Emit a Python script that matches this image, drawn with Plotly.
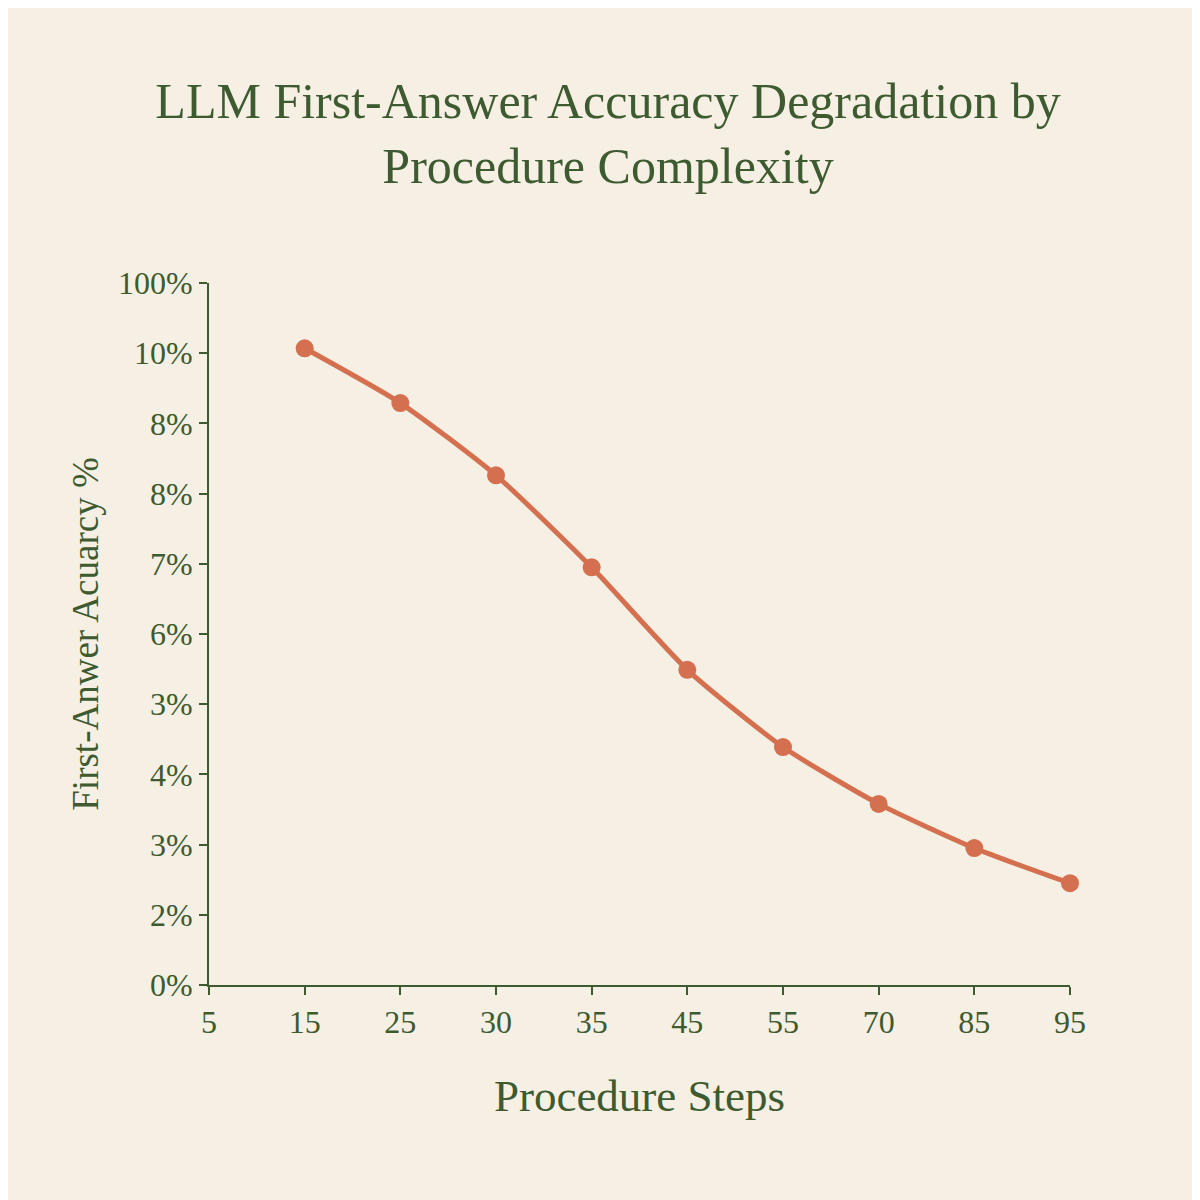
import plotly.graph_objects as go

# tick labels as printed on the chart (evenly spaced positions)
x_labels = ["5", "15", "25", "30", "35", "45", "55", "70", "85", "95"]
y_labels = ["0%", "2%", "3%", "4%", "3%", "6%", "7%", "8%", "8%", "10%", "100%"]

# series, in tick-position units
x_pos = [1, 2, 3, 4, 5, 6, 7, 8, 9]
y_pos = [9.07, 8.29, 7.26, 5.95, 4.49, 3.39, 2.58, 1.95, 1.45]

GREEN = "#3e5a30"
LINE = "#d4704f"
BG = "#f5f0e3"
FONT = "Liberation Serif"

fig = go.Figure()
fig.add_trace(go.Scatter(
    x=x_pos, y=y_pos, mode="lines+markers",
    line=dict(color=LINE, width=5, shape="spline", smoothing=0.6),
    marker=dict(color=LINE, size=18),
    cliponaxis=False, showlegend=False,
))

fig.update_xaxes(
    range=[0, 9], tickvals=list(range(len(x_labels))), ticktext=x_labels,
    showgrid=False, zeroline=False, showline=True, linecolor=GREEN, linewidth=2,
    ticks="outside", tickcolor=GREEN, tickwidth=2, ticklen=8,
    tickfont=dict(size=32, color=GREEN, family=FONT),
    title=dict(text="Procedure Steps", font=dict(size=45, color=GREEN, family=FONT), standoff=40),
)
fig.update_yaxes(
    range=[0, 10], tickvals=list(range(len(y_labels))), ticktext=y_labels,
    showgrid=False, zeroline=False, showline=True, linecolor=GREEN, linewidth=2,
    ticks="outside", tickcolor=GREEN, tickwidth=2, ticklen=8,
    tickfont=dict(size=32, color=GREEN, family=FONT),
    title=dict(text="First-Anwer Acuarcy %", font=dict(size=37, color=GREEN, family=FONT), standoff=8),
)

fig.update_layout(
    width=1200, height=1200,
    paper_bgcolor=BG, plot_bgcolor=BG,
    margin=dict(l=201, r=138, t=275, b=223),
    title=dict(
        text="LLM First-Answer Accuracy Degradation by<br>Procedure Complexity",
        x=0.5, xanchor="center", y=0.908, yanchor="middle",
        font=dict(size=50, color=GREEN, family=FONT),
    ),
)

fig.write_html("out.html")
